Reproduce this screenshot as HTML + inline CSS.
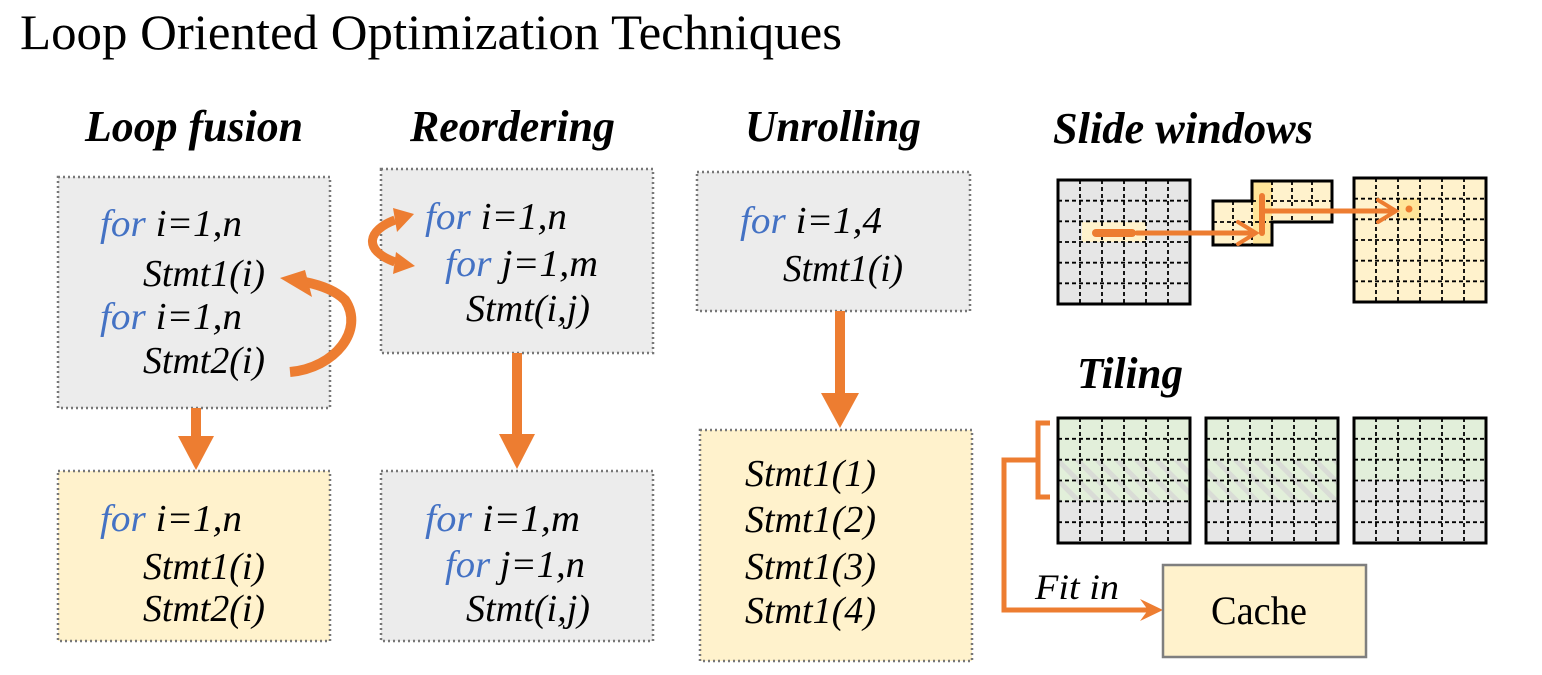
<!DOCTYPE html>
<html><head><meta charset="utf-8"><style>
html,body{margin:0;padding:0;background:#fff;}
svg{display:block;}
text{font-family:"Liberation Serif","Times New Roman",serif;}
.h{font-weight:bold;font-style:italic;font-size:44px;}
.c{font-style:italic;font-size:38px;fill:#000;}
.f{fill:#4472c4;}
.gl{stroke:#000;stroke-width:1.8;stroke-dasharray:4 3;fill:none;}
.gb{stroke:#000;stroke-width:3;fill:none;}
.bx{stroke:#777;stroke-width:2.5;stroke-dasharray:2 3;}
</style></head><body>
<svg width="1542" height="675" viewBox="0 0 1542 675" xmlns="http://www.w3.org/2000/svg">
<text x="20" y="49" font-size="50" textLength="822" lengthAdjust="spacingAndGlyphs">Loop Oriented Optimization Techniques</text>
<text class="h" x="85" y="141" textLength="218" lengthAdjust="spacingAndGlyphs">Loop fusion</text>
<text class="h" x="410" y="141" textLength="205" lengthAdjust="spacingAndGlyphs">Reordering</text>
<text class="h" x="745" y="141" textLength="176" lengthAdjust="spacingAndGlyphs">Unrolling</text>
<text class="h" x="1053" y="143" textLength="260" lengthAdjust="spacingAndGlyphs">Slide windows</text>
<text class="h" x="1077" y="388" textLength="106" lengthAdjust="spacingAndGlyphs">Tiling</text>

<rect class="bx" x="58" y="177" width="272" height="231" fill="#ececec"/>
<rect class="bx" x="381" y="169" width="272" height="184" fill="#ececec"/>
<rect class="bx" x="697" y="172" width="273" height="139" fill="#ececec"/>
<rect class="bx" x="58" y="471" width="272" height="170" fill="#fff2cc"/>
<rect class="bx" x="381" y="471" width="272" height="170" fill="#ececec"/>
<rect class="bx" x="700" y="430" width="272" height="231" fill="#fff2cc"/>

<text class="c" x="100" y="236" textLength="142" lengthAdjust="spacingAndGlyphs"><tspan class="f">for</tspan> i=1,n</text>
<text class="c" x="143" y="286" textLength="122" lengthAdjust="spacingAndGlyphs">Stmt1(i)</text>
<text class="c" x="100" y="329" textLength="142" lengthAdjust="spacingAndGlyphs"><tspan class="f">for</tspan> i=1,n</text>
<text class="c" x="143" y="373" textLength="122" lengthAdjust="spacingAndGlyphs">Stmt2(i)</text>

<text class="c" x="425" y="229" textLength="142" lengthAdjust="spacingAndGlyphs"><tspan class="f">for</tspan> i=1,n</text>
<text class="c" x="445" y="276" textLength="153" lengthAdjust="spacingAndGlyphs"><tspan class="f">for</tspan> j=1,m</text>
<text class="c" x="466" y="321" textLength="124" lengthAdjust="spacingAndGlyphs">Stmt(i,j)</text>

<text class="c" x="740" y="233" textLength="142" lengthAdjust="spacingAndGlyphs"><tspan class="f">for</tspan> i=1,4</text>
<text class="c" x="783" y="281" textLength="120" lengthAdjust="spacingAndGlyphs">Stmt1(i)</text>

<text class="c" x="100" y="531" textLength="142" lengthAdjust="spacingAndGlyphs"><tspan class="f">for</tspan> i=1,n</text>
<text class="c" x="143" y="579" textLength="122" lengthAdjust="spacingAndGlyphs">Stmt1(i)</text>
<text class="c" x="143" y="621" textLength="122" lengthAdjust="spacingAndGlyphs">Stmt2(i)</text>

<text class="c" x="425" y="531" textLength="155" lengthAdjust="spacingAndGlyphs"><tspan class="f">for</tspan> i=1,m</text>
<text class="c" x="445" y="577" textLength="140" lengthAdjust="spacingAndGlyphs"><tspan class="f">for</tspan> j=1,n</text>
<text class="c" x="466" y="621" textLength="124" lengthAdjust="spacingAndGlyphs">Stmt(i,j)</text>

<text class="c" x="745" y="486" textLength="131" lengthAdjust="spacingAndGlyphs">Stmt1(1)</text>
<text class="c" x="745" y="532" textLength="131" lengthAdjust="spacingAndGlyphs">Stmt1(2)</text>
<text class="c" x="745" y="579" textLength="131" lengthAdjust="spacingAndGlyphs">Stmt1(3)</text>
<text class="c" x="745" y="623" textLength="131" lengthAdjust="spacingAndGlyphs">Stmt1(4)</text>

<g fill="#ed7d31" stroke="none">
<rect x="191" y="408" width="10" height="30"/><polygon points="178,436 214,436 196,470"/>
<rect x="512" y="353" width="10" height="84"/><polygon points="499,434 535,434 517,469"/>
<rect x="835" y="311" width="10" height="85"/><polygon points="821,393 859,393 840,428"/>
</g>
<path d="M290,372 C335,368 365,330 345,300 C335,290 320,285 305,282" stroke="#ed7d31" stroke-width="10" fill="none"/>
<polygon points="280,278 305,270 312,297" fill="#ed7d31"/>
<path d="M395,220 C368,230 362,250 395,262" stroke="#ed7d31" stroke-width="9" fill="none"/>
<polygon points="414,214 393,208 397,232" fill="#ed7d31"/>
<polygon points="415,266 396,252 393,274" fill="#ed7d31"/>

<rect x="1058" y="180" width="132" height="124" fill="#e6e6e6"/>
<rect x="1082" y="222" width="64" height="20" fill="#fff2cc"/>
<path class="gl" d="M1080,180V304M1102,180V304M1124,180V304M1146,180V304M1168,180V304M1058,200.7H1190M1058,221.3H1190M1058,242H1190M1058,262.7H1190M1058,283.3H1190"/>
<rect class="gb" x="1058" y="180" width="132" height="124"/>
<path d="M1213,201H1252V181H1332V222H1272V245H1213Z" fill="#fff2cc"/>
<rect x="1253" y="181" width="19" height="64" fill="#ffe599"/>
<path class="gl" d="M1233,201V245M1252,201V245M1272,181V222M1292,181V222M1312,181V222M1213,222H1272M1252,201H1332"/>
<path class="gb" d="M1213,201H1252V181H1332V222H1272V245H1213Z"/>
<rect x="1354" y="178" width="132" height="124" fill="#fff2cc"/>
<rect x="1398" y="198.7" width="22" height="20.6" fill="#ffe599"/>
<path class="gl" d="M1376,178V302M1398,178V302M1420,178V302M1442,178V302M1464,178V302M1354,198.7H1486M1354,219.3H1486M1354,240H1486M1354,260.7H1486M1354,281.3H1486"/>
<rect class="gb" x="1354" y="178" width="132" height="124"/>
<g stroke="#ed7d31" fill="none" stroke-linecap="round">
<line x1="1096" y1="233" x2="1132" y2="233" stroke-width="8"/>
<line x1="1137" y1="233" x2="1252" y2="233" stroke-width="5"/>
<line x1="1262" y1="196" x2="1262" y2="233" stroke-width="6"/>
<line x1="1262" y1="211" x2="1392" y2="211" stroke-width="5"/>
<polyline points="1238,222 1256,233 1238,244" stroke-width="4"/>
<polyline points="1378,200 1396,211 1378,222" stroke-width="4"/>
</g>
<circle cx="1409" cy="209" r="3.5" fill="#ed7d31"/>

<defs><pattern id="hat" width="14" height="14" patternUnits="userSpaceOnUse" patternTransform="rotate(-45)"><rect width="14" height="14" fill="#e2efda"/><rect width="5" height="14" fill="#d9dcd6"/></pattern></defs>
<g>
<rect x="1058" y="418" width="132" height="125" fill="#e6e6e6"/>
<rect x="1058" y="418" width="132" height="42" fill="#e2efda"/>
<rect x="1058" y="460" width="132" height="41" fill="url(#hat)"/>
<path class="gl" d="M1080,418V543M1102,418V543M1124,418V543M1146,418V543M1168,418V543M1058,438.8H1190M1058,459.7H1190M1058,480.5H1190M1058,501.3H1190M1058,522.2H1190"/>
<rect class="gb" x="1058" y="418" width="132" height="125"/>
</g>
<g>
<rect x="1206" y="418" width="132" height="125" fill="#e6e6e6"/>
<rect x="1206" y="418" width="132" height="42" fill="#e2efda"/>
<rect x="1206" y="460" width="132" height="41" fill="url(#hat)"/>
<path class="gl" d="M1228,418V543M1250,418V543M1272,418V543M1294,418V543M1316,418V543M1206,438.8H1338M1206,459.7H1338M1206,480.5H1338M1206,501.3H1338M1206,522.2H1338"/>
<rect class="gb" x="1206" y="418" width="132" height="125"/>
</g>
<g>
<rect x="1354" y="418" width="132" height="125" fill="#e6e6e6"/>
<rect x="1354" y="418" width="132" height="62" fill="#e2efda"/>
<path class="gl" d="M1376,418V543M1398,418V543M1420,418V543M1442,418V543M1464,418V543M1354,438.8H1486M1354,459.7H1486M1354,480.5H1486M1354,501.3H1486M1354,522.2H1486"/>
<rect class="gb" x="1354" y="418" width="132" height="125"/>
</g>
<g stroke="#ed7d31" fill="none" stroke-width="5">
<path d="M1050,423H1038V497H1050"/>
<path d="M1038,460H1004V610H1155"/>
</g>
<polygon points="1140,599 1163,610 1140,621 1148,610" fill="#ed7d31"/>
<text x="1035" y="599" font-size="36" font-style="italic" textLength="84" lengthAdjust="spacingAndGlyphs">Fit in</text>
<rect x="1163" y="565" width="203" height="92" fill="#fff2cc" stroke="#7f7f7f" stroke-width="2.5"/>
<text x="1211" y="624" font-size="40" textLength="96" lengthAdjust="spacingAndGlyphs">Cache</text>
</svg>
</body></html>
